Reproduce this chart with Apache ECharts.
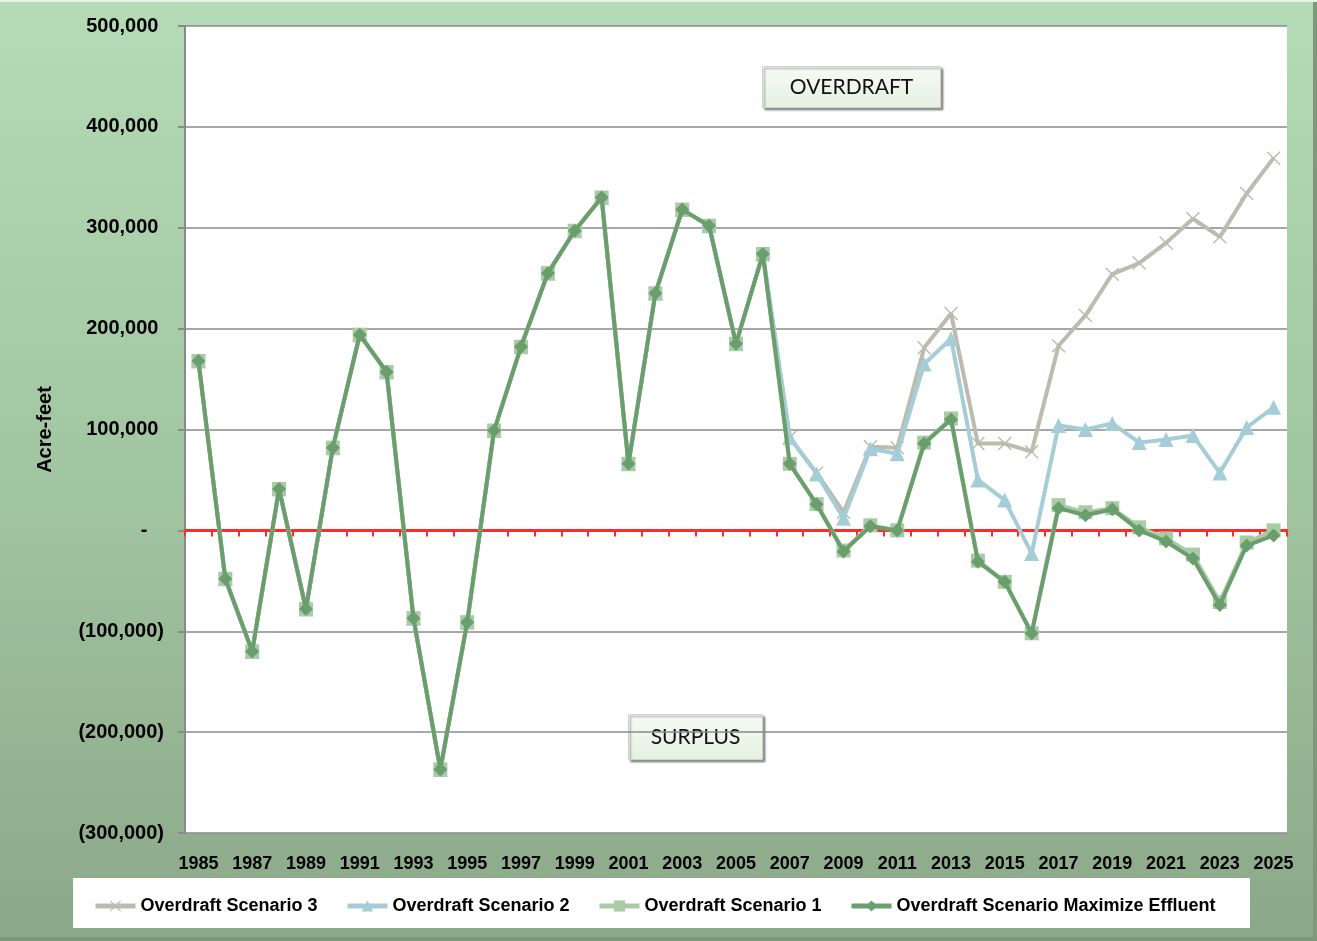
<!DOCTYPE html>
<html>
<head>
<meta charset="utf-8">
<title>Overdraft Scenarios</title>
<script src="https://cdn.jsdelivr.net/npm/echarts@6/dist/echarts.min.js"></script>
<style>
  html, body { margin: 0; padding: 0; }
  #chart {
    width: 1317px;
    height: 941px;
    background: linear-gradient(to bottom, #b5dab6 0%, #a3c6a2 50%, #8ba888 100%);
    box-shadow: inset 0 2px 0 #e6f3e6, inset -4px -4px 0 #7e987c;
  }
</style>
</head>
<body>
<div id="chart"></div>
<script>
// categories
const years = ['1985', '1986', '1987', '1988', '1989', '1990', '1991', '1992', '1993', '1994',
    '1995', '1996', '1997', '1998', '1999', '2000', '2001', '2002', '2003', '2004',
    '2005', '2006', '2007', '2008', '2009', '2010', '2011', '2012', '2013', '2014',
    '2015', '2016', '2017', '2018', '2019', '2020', '2021', '2022', '2023', '2024', '2025'];

// series values (acre-feet)
const scenario3 = [168000, -48000, -120000, 41000, -78000, 82000, 194000, 157000, -87000, -237000,
    -91000, 99000, 182000, 255000, 297000, 330000, 66000, 235000, 318000, 302000,
    185000, 274000, 92000, 57000, 18000, 83000, 82000, 181000, 215000, 86000,
    86000, 78000, 183000, 213000, 254000, 265000, 285000, 309000, 291000, 334000, 369000];
const scenario2 = [168000, -48000, -120000, 41000, -78000, 82000, 194000, 157000, -87000, -237000,
    -91000, 99000, 182000, 255000, 297000, 330000, 66000, 235000, 318000, 302000,
    185000, 274000, 92000, 56000, 12000, 81000, 76000, 165000, 190000, 50000,
    30000, -23000, 104000, 100000, 106000, 87000, 90000, 94000, 57000, 102000, 122000];
const scenario1 = [168000, -48000, -120000, 41000, -78000, 82000, 194000, 157000, -87000, -237000,
    -91000, 99000, 182000, 255000, 297000, 330000, 66000, 235000, 318000, 302000,
    185000, 274000, 66000, 26000, -20000, 5000, 0, 87000, 111000, -30000,
    -51000, -102000, 25000, 18000, 22000, 3000, -8000, -24000, -71000, -12000, 0];
const maxEffluent = [168000, -48000, -120000, 41000, -78000, 82000, 194000, 157000, -87000, -237000,
    -91000, 99000, 182000, 255000, 297000, 330000, 66000, 235000, 318000, 302000,
    185000, 274000, 66000, 26000, -21000, 4000, 0, 86000, 110000, -31000,
    -51000, -102000, 22000, 15000, 21000, 0, -11000, -28000, -74000, -15000, -5000];

const seriesNames = ['Overdraft Scenario 3', 'Overdraft Scenario 2', 'Overdraft Scenario 1', 'Overdraft Scenario Maximize Effluent'];

const FONT = '"Liberation Sans", Arial, sans-serif';
const crossPath = 'path://M0,1L1,0L7,6L13,0L14,1L8,7L14,13L13,14L7,8L1,14L0,13L6,7Z';

function fmtY(v) {
    if (v === 0) return '-   ';
    const s = Math.abs(v).toLocaleString('en-US');
    return v < 0 ? '(' + s + ')' : s + ' ';
}

function noteBox(x, y, w, h, label) {
    return {
        type: 'group',
        left: x,
        top: y,
        children: [
            {
                type: 'rect',
                shape: { x: 0, y: 0, width: w, height: h },
                style: {
                    fill: new echarts.graphic.LinearGradient(0, 0, 0, 1, [
                        { offset: 0, color: '#f6fbf5' },
                        { offset: 1, color: '#e4f0e1' }
                    ]),
                    stroke: '#c9d6c6',
                    lineWidth: 1,
                    shadowBlur: 2,
                    shadowOffsetX: 2,
                    shadowOffsetY: 2,
                    shadowColor: 'rgba(0,0,0,0.4)'
                }
            },
            {
                type: 'text',
                x: w / 2,
                y: h / 2,
                style: {
                    text: label,
                    align: 'center',
                    verticalAlign: 'middle',
                    font: '21px Lato, "Open Sans", sans-serif',
                    fill: '#111'
                }
            }
        ]
    };
}

const legendLefts = [93, 345, 597, 849];

const chart = echarts.init(document.getElementById('chart'));
chart.setOption({
    backgroundColor: 'transparent',
    animation: false,
    textStyle: { fontFamily: FONT },
    grid: { left: 185, right: 30, top: 26, bottom: 108, backgroundColor: '#fff', show: true, borderWidth: 0 },
    graphic: [
        {
            type: 'rect',
            left: 73,
            top: 878,
            shape: { width: 1177, height: 50 },
            style: { fill: '#ffffff' },
            z: 0
        },
        noteBox(762, 66, 178, 41, 'OVERDRAFT'),
        noteBox(628, 714, 134, 45, 'SURPLUS')
    ],
    legend: seriesNames.map((n, i) => ({
        data: [n],
        left: legendLefts[i],
        top: 897,
        padding: 0,
        itemWidth: 40,
        itemHeight: 14,
        lineStyle: { width: 5 },
        textStyle: { fontFamily: FONT, fontSize: 18, fontWeight: 'bold', color: '#000' }
    })),
    xAxis: [
        {
            type: 'category',
            data: years,
            position: 'bottom',
            boundaryGap: true,
            axisLine: { show: false, onZero: false },
            axisTick: { show: false },
            splitLine: { show: false },
            axisLabel: {
                interval: 1,
                margin: 22,
                color: '#000',
                fontFamily: FONT,
                fontSize: 18,
                fontWeight: 'bold'
            }
        },
        {
            type: 'category',
            data: years,
            position: 'bottom',
            boundaryGap: true,
            axisLine: { show: true, onZero: true, lineStyle: { color: '#ff2b2b', width: 3 } },
            axisTick: { show: true, interval: 0, length: 6, lineStyle: { color: '#ff2b2b', width: 2 } },
            axisLabel: { show: false },
            splitLine: { show: false }
        }
    ],
    yAxis: {
        type: 'value',
        min: -300000,
        max: 500000,
        interval: 100000,
        name: 'Acre-feet',
        nameLocation: 'middle',
        nameGap: 130,
        nameRotate: 90,
        nameTextStyle: { fontFamily: FONT, fontSize: 20, fontWeight: 'bold', color: '#000' },
        axisLine: { show: true, onZero: false, lineStyle: { color: '#8a8a8a', width: 2 } },
        axisTick: { show: true, length: 7, lineStyle: { color: '#8a8a8a', width: 2 } },
        splitLine: { lineStyle: { color: '#8a8a8a', width: 1.5 } },
        axisLabel: {
            formatter: fmtY,
            margin: 21,
            color: '#000',
            fontFamily: FONT,
            fontSize: 20,
            fontWeight: 'bold'
        }
    },
    series: [
        {
            name: seriesNames[0],
            type: 'line',
            data: scenario3,
            symbol: crossPath,
            symbolSize: 14,
            lineStyle: { color: '#bdbbad', width: 4 },
            itemStyle: { color: '#bdbbad' },
            z: 2
        },
        {
            name: seriesNames[1],
            type: 'line',
            data: scenario2,
            symbol: 'triangle',
            symbolSize: 15,
            lineStyle: { color: '#a5cdd7', width: 4 },
            itemStyle: { color: '#a5cdd7' },
            z: 3
        },
        {
            name: seriesNames[2],
            type: 'line',
            data: scenario1,
            symbol: 'rect',
            symbolSize: 14,
            lineStyle: { color: '#a9cba5', width: 4 },
            itemStyle: { color: '#a9cba5' },
            z: 4
        },
        {
            name: seriesNames[3],
            type: 'line',
            data: maxEffluent,
            symbol: 'diamond',
            symbolSize: 14,
            lineStyle: { color: '#6a9f6d', width: 4 },
            itemStyle: { color: '#6a9f6d' },
            z: 5
        }
    ]
});
</script>
</body>
</html>
